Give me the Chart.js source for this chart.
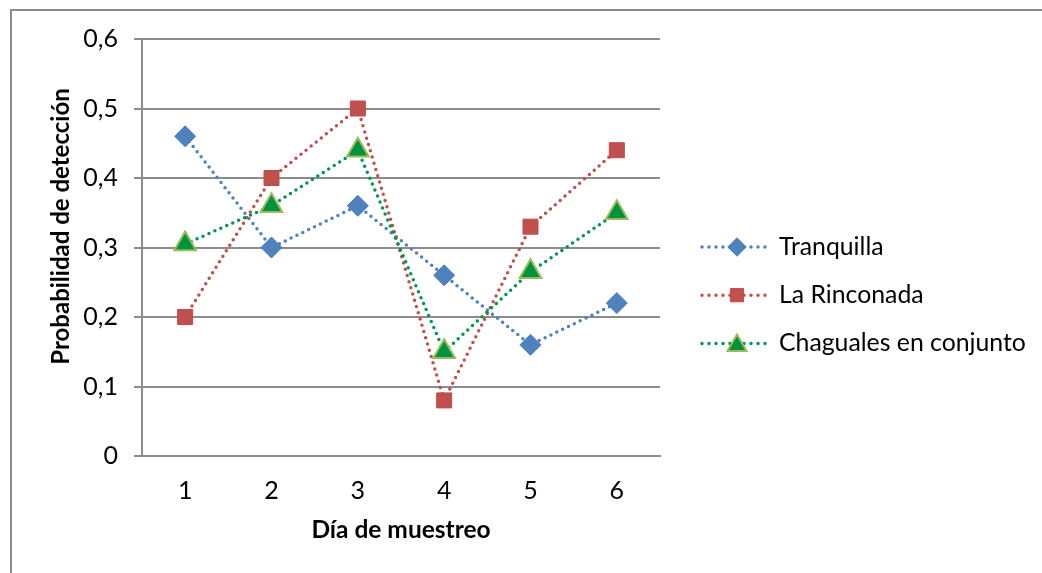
<!DOCTYPE html>
<html>
<head>
<meta charset="utf-8">
<script src="https://cdn.jsdelivr.net/npm/chart.js@4.4.1/dist/chart.umd.min.js"></script>
<style>
  html, body { margin: 0; padding: 0; background: #fff; overflow: hidden; width: 1042px; height: 573px; }
  #frame { position: absolute; left: 10px; top: 9px; width: 1200px; height: 800px; border: 2px solid #8c8c8c; box-sizing: border-box; }
  #wrap { position: absolute; left: 0; top: 0; width: 1042px; height: 573px; }
</style>
</head>
<body>
<div id="frame"></div>
<div id="wrap"><canvas id="c" width="1042" height="573"></canvas></div>
<script>
// Sampling days and detection probabilities per site
const days = ['1', '2', '3', '4', '5', '6'];
const tranquilla = [0.46, 0.30, 0.36, 0.26, 0.16, 0.22];
const rinconada = [0.20, 0.40, 0.50, 0.08, 0.33, 0.44];
const chaguales = [0.305, 0.36, 0.44, 0.15, 0.265, 0.35];
const seriesNames = ['Tranquilla', 'La Rinconada', 'Chaguales en conjunto'];
const yTickLabels = ['0', '0,1', '0,2', '0,3', '0,4', '0,5', '0,6'];
const xTitle = 'Día de muestreo';
const yTitle = 'Probabilidad de detección';

const FONT = 'Lato, "Open Sans", sans-serif';
const GRID = '#8c8c8c';

function dotted(color) {
  return {
    borderColor: color,
    borderWidth: 3.5,
    borderDash: [0, 6.5],
    borderCapStyle: 'round',
    fill: false,
    tension: 0
  };
}

const datasets = [
  Object.assign({
    label: seriesNames[0], data: tranquilla, order: 2,
    pointStyle: 'rectRot', pointRadius: 10.5, pointHoverRadius: 10.5,
    pointBackgroundColor: '#4f81bd', pointBorderColor: '#4a7ebb', pointBorderWidth: 1
  }, dotted('#4f81bd')),
  Object.assign({
    label: seriesNames[1], data: rinconada, order: 1,
    pointStyle: 'rect', pointRadius: 10.6, pointHoverRadius: 10.6,
    pointBackgroundColor: '#c0504d', pointBorderColor: '#be4b48', pointBorderWidth: 1
  }, dotted('#c0504d')),
  Object.assign({
    label: seriesNames[2], data: chaguales, order: 0,
    pointStyle: 'triangle', pointRadius: 12.5, pointHoverRadius: 12.5,
    pointBackgroundColor: '#00933f', pointBorderColor: '#9bbb59', pointBorderWidth: 2
  }, dotted('#00964b'))
];

// Legend at the right: dotted sample line with the series marker, then the name
const sideLegend = {
  id: 'sideLegend',
  afterDraw(chart) {
    const ctx = chart.ctx;
    const x0 = 702, x1 = 767, xm = 737, xt = 779, yTop = 247, dy = 48.2;
    chart.data.datasets.forEach((ds, i) => {
      const y = yTop + i * dy;
      ctx.save();
      ctx.strokeStyle = ds.borderColor;
      ctx.lineWidth = ds.borderWidth;
      ctx.lineCap = 'round';
      ctx.setLineDash([0, 7]);
      ctx.beginPath();
      ctx.moveTo(x0, y);
      ctx.lineTo(x1, y);
      ctx.stroke();
      ctx.restore();

      ctx.save();
      ctx.fillStyle = ds.pointBackgroundColor;
      ctx.strokeStyle = ds.pointBorderColor;
      ctx.lineWidth = ds.pointBorderWidth;
      Chart.helpers.drawPoint(ctx, {
        pointStyle: ds.pointStyle,
        radius: ds.pointRadius * 0.88,
        rotation: 0,
        borderWidth: ds.pointBorderWidth
      }, xm, ds.pointStyle === 'triangle' ? y + 2 : y);
      ctx.restore();

      ctx.save();
      ctx.fillStyle = '#000';
      ctx.font = '24.8px ' + FONT;
      ctx.textAlign = 'left';
      ctx.textBaseline = 'middle';
      ctx.fillText(ds.label, xt, y);
      ctx.restore();
    });
  }
};

// Vertical axis title, drawn rotated beside the tick labels
const yAxisTitle = {
  id: 'yAxisTitle',
  afterDraw(chart) {
    const ctx = chart.ctx;
    ctx.save();
    ctx.translate(61, 226.5);
    ctx.rotate(-Math.PI / 2);
    ctx.fillStyle = '#000';
    ctx.font = 'bold 24px ' + FONT;
    ctx.textAlign = 'center';
    ctx.textBaseline = 'middle';
    ctx.fillText(yTitle, 0, 0);
    ctx.restore();
  }
};

new Chart(document.getElementById('c'), {
  type: 'line',
  data: { labels: days, datasets: datasets },
  options: {
    responsive: false,
    animation: false,
    devicePixelRatio: 1,
    layout: { padding: { left: 12, right: 382, top: 39, bottom: 0 } },
    plugins: {
      legend: { display: false },
      tooltip: { enabled: false },
      title: { display: false }
    },
    scales: {
      x: {
        type: 'category',
        offset: true,
        grid: { display: false, drawTicks: false },
        border: { display: true, color: GRID, width: 2 },
        ticks: { color: '#000', font: { family: FONT, size: 25 }, padding: 20 },
        title: {
          display: true, text: xTitle, color: '#000',
          font: { family: FONT, size: 24.5, weight: 'bold' },
          padding: { top: 0, bottom: 28 }
        },
        afterFit(scale) { scale.height = 117; }
      },
      y: {
        min: 0,
        max: 0.6,
        grid: { color: GRID, lineWidth: 2, drawTicks: true, tickLength: 8, tickColor: GRID },
        border: { display: true, color: GRID, width: 2 },
        ticks: {
          stepSize: 0.1,
          color: '#000',
          font: { family: FONT, size: 25 },
          padding: 16,
          callback: (v, i) => yTickLabels[i]
        },
        afterFit(scale) { scale.width = 130; }
      }
    }
  },
  plugins: [sideLegend, yAxisTitle]
});
</script>
</body>
</html>
